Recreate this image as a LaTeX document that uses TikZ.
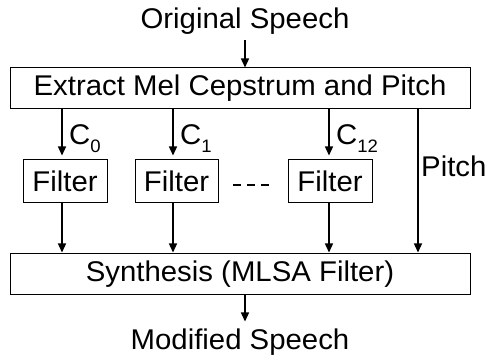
\documentclass[tikz,border=0pt]{standalone}
\usepackage{fontspec}
\setmainfont{Liberation Sans}[FakeStretch=1.03]
\usetikzlibrary{arrows.meta}
\newcommand{\lowsub}[1]{\raisebox{-8pt}{\fontsize{18}{20}\selectfont #1}}
\begin{document}
\begin{tikzpicture}[x=1pt,y=-1pt,
  txt/.style={font=\fontsize{28.5}{32}\selectfont, inner sep=0pt},
  box/.style={draw, line width=1pt, inner sep=0pt, font=\fontsize{28.5}{32}\selectfont},
  arr/.style={line width=1.4pt, -{Triangle[length=9pt,width=8pt]}},
  ln/.style={line width=1.4pt}]
\useasboundingbox (0,0) rectangle (485,358);
\node[txt, anchor=base] (orig) at (245,29) {Original Speech};
\node[box, minimum width=460pt, minimum height=41pt] (ext) at (240,88.5) {Extract Mel Cepstrum and Pitch};
\node[box, minimum width=84pt, minimum height=43pt] (f1) at (65,181.5) {Filter};
\node[box, minimum width=83pt, minimum height=43pt] (f2) at (176.5,181.5) {Filter};
\node[box, minimum width=84pt, minimum height=43pt] (f3) at (330,181.5) {Filter};
\node[box, minimum width=460pt, minimum height=41pt] (syn) at (240,274.5) {Synthesis (MLSA Filter)};
\node[txt, anchor=base] (mod) at (240,349) {Modified Speech};
\coordinate (a0) at (62,0);
\coordinate (a1) at (173,0);
\coordinate (a2) at (329,0);
\coordinate (ap) at (418,0);
\coordinate (ao) at (245,0);
\coordinate (in) at (245,40);
\coordinate (d1) at (233,185);
\coordinate (d2) at (272,185);
\draw[arr] (in) -- (in |- ext.north);
\draw[arr] (a0 |- ext.south) -- ([yshift=4pt]a0 |- f1.north);
\draw[arr] (a1 |- ext.south) -- ([yshift=4pt]a1 |- f2.north);
\draw[arr] (a2 |- ext.south) -- ([yshift=4pt]a2 |- f3.north);
\draw[arr] (a0 |- f1.south) -- ([yshift=1pt]a0 |- syn.north);
\draw[arr] (a1 |- f2.south) -- ([yshift=1pt]a1 |- syn.north);
\draw[arr] (a2 |- f3.south) -- ([yshift=1pt]a2 |- syn.north);
\draw[arr] (ap |- ext.south) -- ([yshift=1pt]ap |- syn.north);
\draw[arr] (ao |- syn.south) -- ([yshift=-26pt]ao |- syn.south);
\draw[ln, dash pattern=on 8pt off 6pt] (d1) -- (d2);
\node[txt, anchor=base west] (c0) at (69,145) {C\lowsub{0}};
\node[txt, anchor=base west] (c1) at (180,145) {C\lowsub{1}};
\node[txt, anchor=base west] (c12) at (336,145) {C\lowsub{12}};
\node[txt, anchor=base west] (p) at (421,177) {Pitch};
\end{tikzpicture}
\end{document}
